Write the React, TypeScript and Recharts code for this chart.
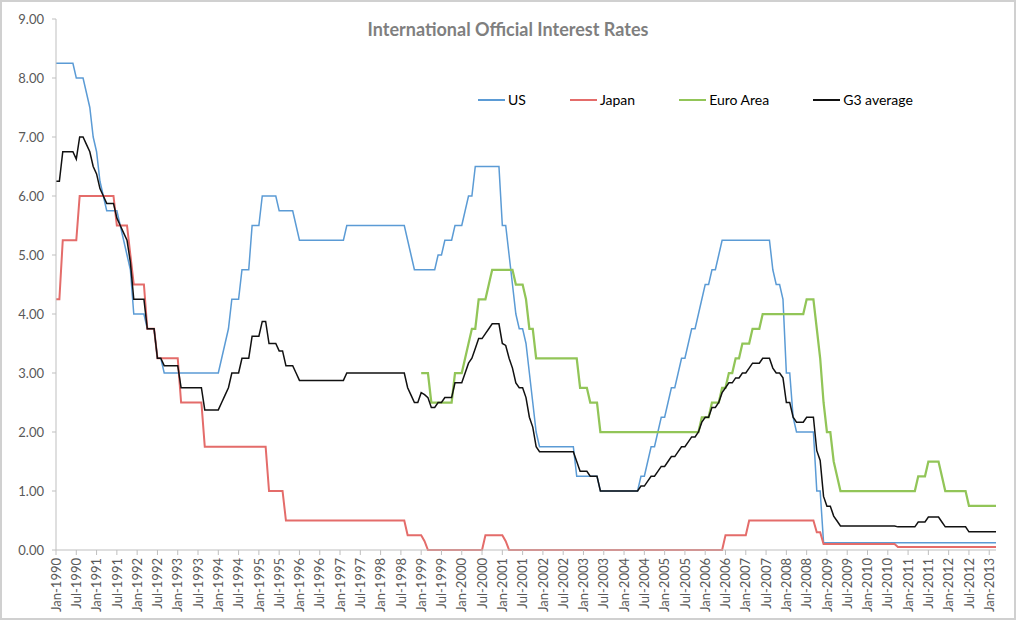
import React from 'react';
import { LineChart, Line, XAxis, YAxis } from 'recharts';

const FONT = 'Lato, "Open Sans", sans-serif';

const monthNames = ['Jan', 'Feb', 'Mar', 'Apr', 'May', 'Jun', 'Jul', 'Aug', 'Sep', 'Oct', 'Nov', 'Dec'];
const firstYear = 1990;
const euroFirstMonth = 108; // Jan-1999

// month-end official rates, Jan-1990 .. Mar-2013
const usRate = [
  8.25, 8.25, 8.25, 8.25, 8.25, 8.25, 8.0, 8.0, 8.0, 7.75, 7.5, 7.0,
  6.75, 6.25, 6.0, 5.75, 5.75, 5.75, 5.75, 5.5, 5.25, 5.0, 4.75, 4.0,
  4.0, 4.0, 4.0, 3.75, 3.75, 3.75, 3.25, 3.25, 3.0, 3.0, 3.0, 3.0,
  3.0, 3.0, 3.0, 3.0, 3.0, 3.0, 3.0, 3.0, 3.0, 3.0, 3.0, 3.0,
  3.0, 3.25, 3.5, 3.75, 4.25, 4.25, 4.25, 4.75, 4.75, 4.75, 5.5, 5.5,
  5.5, 6.0, 6.0, 6.0, 6.0, 6.0, 5.75, 5.75, 5.75, 5.75, 5.75, 5.5,
  5.25, 5.25, 5.25, 5.25, 5.25, 5.25, 5.25, 5.25, 5.25, 5.25, 5.25, 5.25,
  5.25, 5.25, 5.5, 5.5, 5.5, 5.5, 5.5, 5.5, 5.5, 5.5, 5.5, 5.5,
  5.5, 5.5, 5.5, 5.5, 5.5, 5.5, 5.5, 5.5, 5.25, 5.0, 4.75, 4.75,
  4.75, 4.75, 4.75, 4.75, 4.75, 5.0, 5.0, 5.25, 5.25, 5.25, 5.5, 5.5,
  5.5, 5.75, 6.0, 6.0, 6.5, 6.5, 6.5, 6.5, 6.5, 6.5, 6.5, 6.5,
  5.5, 5.5, 5.0, 4.5, 4.0, 3.75, 3.75, 3.5, 3.0, 2.5, 2.0, 1.75,
  1.75, 1.75, 1.75, 1.75, 1.75, 1.75, 1.75, 1.75, 1.75, 1.75, 1.25, 1.25,
  1.25, 1.25, 1.25, 1.25, 1.25, 1.0, 1.0, 1.0, 1.0, 1.0, 1.0, 1.0,
  1.0, 1.0, 1.0, 1.0, 1.0, 1.25, 1.25, 1.5, 1.75, 1.75, 2.0, 2.25,
  2.25, 2.5, 2.75, 2.75, 3.0, 3.25, 3.25, 3.5, 3.75, 3.75, 4.0, 4.25,
  4.5, 4.5, 4.75, 4.75, 5.0, 5.25, 5.25, 5.25, 5.25, 5.25, 5.25, 5.25,
  5.25, 5.25, 5.25, 5.25, 5.25, 5.25, 5.25, 5.25, 4.75, 4.5, 4.5, 4.25,
  3.0, 3.0, 2.25, 2.0, 2.0, 2.0, 2.0, 2.0, 2.0, 1.0, 1.0, 0.125,
  0.125, 0.125, 0.125, 0.125, 0.125, 0.125, 0.125, 0.125, 0.125, 0.125, 0.125, 0.125,
  0.125, 0.125, 0.125, 0.125, 0.125, 0.125, 0.125, 0.125, 0.125, 0.125, 0.125, 0.125,
  0.125, 0.125, 0.125, 0.125, 0.125, 0.125, 0.125, 0.125, 0.125, 0.125, 0.125, 0.125,
  0.125, 0.125, 0.125, 0.125, 0.125, 0.125, 0.125, 0.125, 0.125, 0.125, 0.125, 0.125,
  0.125, 0.125, 0.125,
];

const japanRate = [
  4.25, 4.25, 5.25, 5.25, 5.25, 5.25, 5.25, 6.0, 6.0, 6.0, 6.0, 6.0,
  6.0, 6.0, 6.0, 6.0, 6.0, 6.0, 5.5, 5.5, 5.5, 5.5, 5.0, 4.5,
  4.5, 4.5, 4.5, 3.75, 3.75, 3.75, 3.25, 3.25, 3.25, 3.25, 3.25, 3.25,
  3.25, 2.5, 2.5, 2.5, 2.5, 2.5, 2.5, 2.5, 1.75, 1.75, 1.75, 1.75,
  1.75, 1.75, 1.75, 1.75, 1.75, 1.75, 1.75, 1.75, 1.75, 1.75, 1.75, 1.75,
  1.75, 1.75, 1.75, 1.0, 1.0, 1.0, 1.0, 1.0, 0.5, 0.5, 0.5, 0.5,
  0.5, 0.5, 0.5, 0.5, 0.5, 0.5, 0.5, 0.5, 0.5, 0.5, 0.5, 0.5,
  0.5, 0.5, 0.5, 0.5, 0.5, 0.5, 0.5, 0.5, 0.5, 0.5, 0.5, 0.5,
  0.5, 0.5, 0.5, 0.5, 0.5, 0.5, 0.5, 0.5, 0.25, 0.25, 0.25, 0.25,
  0.25, 0.15, 0, 0, 0, 0, 0, 0, 0, 0, 0, 0,
  0, 0, 0, 0, 0, 0, 0, 0.25, 0.25, 0.25, 0.25, 0.25,
  0.25, 0.15, 0, 0, 0, 0, 0, 0, 0, 0, 0, 0,
  0, 0, 0, 0, 0, 0, 0, 0, 0, 0, 0, 0,
  0, 0, 0, 0, 0, 0, 0, 0, 0, 0, 0, 0,
  0, 0, 0, 0, 0, 0, 0, 0, 0, 0, 0, 0,
  0, 0, 0, 0, 0, 0, 0, 0, 0, 0, 0, 0,
  0, 0, 0, 0, 0, 0, 0.25, 0.25, 0.25, 0.25, 0.25, 0.25,
  0.25, 0.5, 0.5, 0.5, 0.5, 0.5, 0.5, 0.5, 0.5, 0.5, 0.5, 0.5,
  0.5, 0.5, 0.5, 0.5, 0.5, 0.5, 0.5, 0.5, 0.5, 0.3, 0.3, 0.1,
  0.1, 0.1, 0.1, 0.1, 0.1, 0.1, 0.1, 0.1, 0.1, 0.1, 0.1, 0.1,
  0.1, 0.1, 0.1, 0.1, 0.1, 0.1, 0.1, 0.1, 0.1, 0.05, 0.05, 0.05,
  0.05, 0.05, 0.05, 0.05, 0.05, 0.05, 0.05, 0.05, 0.05, 0.05, 0.05, 0.05,
  0.05, 0.05, 0.05, 0.05, 0.05, 0.05, 0.05, 0.05, 0.05, 0.05, 0.05, 0.05,
  0.05, 0.05, 0.05,
];

// from Jan-1999
const euroRate = [
  3.0, 3.0, 3.0, 2.5, 2.5, 2.5, 2.5, 2.5, 2.5, 2.5, 3.0, 3.0,
  3.0, 3.25, 3.5, 3.75, 3.75, 4.25, 4.25, 4.25, 4.5, 4.75, 4.75, 4.75,
  4.75, 4.75, 4.75, 4.75, 4.5, 4.5, 4.5, 4.25, 3.75, 3.75, 3.25, 3.25,
  3.25, 3.25, 3.25, 3.25, 3.25, 3.25, 3.25, 3.25, 3.25, 3.25, 3.25, 2.75,
  2.75, 2.75, 2.5, 2.5, 2.5, 2.0, 2.0, 2.0, 2.0, 2.0, 2.0, 2.0,
  2.0, 2.0, 2.0, 2.0, 2.0, 2.0, 2.0, 2.0, 2.0, 2.0, 2.0, 2.0,
  2.0, 2.0, 2.0, 2.0, 2.0, 2.0, 2.0, 2.0, 2.0, 2.0, 2.0, 2.25,
  2.25, 2.25, 2.5, 2.5, 2.5, 2.75, 2.75, 3.0, 3.0, 3.25, 3.25, 3.5,
  3.5, 3.5, 3.75, 3.75, 3.75, 4.0, 4.0, 4.0, 4.0, 4.0, 4.0, 4.0,
  4.0, 4.0, 4.0, 4.0, 4.0, 4.0, 4.25, 4.25, 4.25, 3.75, 3.25, 2.5,
  2.0, 2.0, 1.5, 1.25, 1.0, 1.0, 1.0, 1.0, 1.0, 1.0, 1.0, 1.0,
  1.0, 1.0, 1.0, 1.0, 1.0, 1.0, 1.0, 1.0, 1.0, 1.0, 1.0, 1.0,
  1.0, 1.0, 1.0, 1.25, 1.25, 1.25, 1.5, 1.5, 1.5, 1.5, 1.25, 1.0,
  1.0, 1.0, 1.0, 1.0, 1.0, 1.0, 0.75, 0.75, 0.75, 0.75, 0.75, 0.75,
  0.75, 0.75, 0.75,
];

const g3Average = [
  6.25, 6.25, 6.75, 6.75, 6.75, 6.75, 6.625, 7.0, 7.0, 6.875, 6.75, 6.5,
  6.375, 6.125, 6.0, 5.875, 5.875, 5.875, 5.625, 5.5, 5.375, 5.25, 4.875, 4.25,
  4.25, 4.25, 4.25, 3.75, 3.75, 3.75, 3.25, 3.25, 3.125, 3.125, 3.125, 3.125,
  3.125, 2.75, 2.75, 2.75, 2.75, 2.75, 2.75, 2.75, 2.375, 2.375, 2.375, 2.375,
  2.375, 2.5, 2.625, 2.75, 3.0, 3.0, 3.0, 3.25, 3.25, 3.25, 3.625, 3.625,
  3.625, 3.875, 3.875, 3.5, 3.5, 3.5, 3.375, 3.375, 3.125, 3.125, 3.125, 3.0,
  2.875, 2.875, 2.875, 2.875, 2.875, 2.875, 2.875, 2.875, 2.875, 2.875, 2.875, 2.875,
  2.875, 2.875, 3.0, 3.0, 3.0, 3.0, 3.0, 3.0, 3.0, 3.0, 3.0, 3.0,
  3.0, 3.0, 3.0, 3.0, 3.0, 3.0, 3.0, 3.0, 2.75, 2.625, 2.5, 2.5,
  2.667, 2.633, 2.583, 2.417, 2.417, 2.5, 2.5, 2.583, 2.583, 2.583, 2.833, 2.833,
  2.833, 3.0, 3.167, 3.25, 3.417, 3.583, 3.583, 3.667, 3.75, 3.833, 3.833, 3.833,
  3.5, 3.467, 3.25, 3.083, 2.833, 2.75, 2.75, 2.583, 2.25, 2.083, 1.75, 1.667,
  1.667, 1.667, 1.667, 1.667, 1.667, 1.667, 1.667, 1.667, 1.667, 1.667, 1.5, 1.333,
  1.333, 1.333, 1.25, 1.25, 1.25, 1.0, 1.0, 1.0, 1.0, 1.0, 1.0, 1.0,
  1.0, 1.0, 1.0, 1.0, 1.0, 1.083, 1.083, 1.167, 1.25, 1.25, 1.333, 1.417,
  1.417, 1.5, 1.583, 1.583, 1.667, 1.75, 1.75, 1.833, 1.917, 1.917, 2.0, 2.167,
  2.25, 2.25, 2.417, 2.417, 2.5, 2.667, 2.75, 2.833, 2.833, 2.917, 2.917, 3.0,
  3.0, 3.083, 3.167, 3.167, 3.167, 3.25, 3.25, 3.25, 3.083, 3.0, 3.0, 2.917,
  2.5, 2.5, 2.25, 2.167, 2.167, 2.167, 2.25, 2.25, 2.25, 1.683, 1.517, 0.908,
  0.742, 0.742, 0.575, 0.492, 0.408, 0.408, 0.408, 0.408, 0.408, 0.408, 0.408, 0.408,
  0.408, 0.408, 0.408, 0.408, 0.408, 0.408, 0.408, 0.408, 0.408, 0.392, 0.392, 0.392,
  0.392, 0.392, 0.392, 0.475, 0.475, 0.475, 0.558, 0.558, 0.558, 0.558, 0.475, 0.392,
  0.392, 0.392, 0.392, 0.392, 0.392, 0.392, 0.308, 0.308, 0.308, 0.308, 0.308, 0.308,
  0.308, 0.308, 0.308,
];

const yTicks = [0, 1, 2, 3, 4, 5, 6, 7, 8, 9];

const series = [
  { key: 'us', name: 'US', color: '#5b9bd5', width: 1.5 },
  { key: 'japan', name: 'Japan', color: '#e46c6a', width: 2 },
  { key: 'euro', name: 'Euro Area', color: '#92c558', width: 2.25 },
  { key: 'g3', name: 'G3 average', color: '#111', width: 1.5 },
];

const data = usRate.map((us, i) => ({
  month: `${monthNames[i % 12]}-${firstYear + Math.floor(i / 12)}`,
  us,
  japan: japanRate[i],
  euro: i >= euroFirstMonth ? euroRate[i - euroFirstMonth] : null,
  g3: g3Average[i],
}));

const MonthTick = ({ x, y, payload }: any) => (
  <g transform={`translate(${x},${y})`}>
    <text
      transform="rotate(-90)"
      textAnchor="end"
      dy="0.36em"
      fill="#595959"
      fontSize={13}
      fontFamily={FONT}
    >
      {payload.value}
    </text>
  </g>
);

const App = () => {
  return (
    <div
      style={{
        position: 'absolute',
        left: 0,
        top: 0,
        width: 1012,
        height: 616,
        border: '2px solid #d0d0d0',
        background: '#fff',
      }}
    >
      <div
        style={{
          position: 'absolute',
          top: 16,
          left: 0,
          width: 1012,
          textAlign: 'center',
          fontFamily: FONT,
          fontWeight: 'bold',
          fontSize: 18,
          lineHeight: '22px',
          color: '#7f7f7f',
        }}
      >
        International Official Interest Rates
      </div>
      {/* legend sits inside the plot area, like the Excel original */}
      <div
        style={{
          position: 'absolute',
          top: 89,
          left: 476,
          display: 'flex',
          gap: 44,
          fontFamily: FONT,
          fontSize: 14,
          lineHeight: '18px',
          color: '#000',
        }}
      >
        {series.map((s) => (
          <div key={s.key} style={{ display: 'flex', alignItems: 'center' }}>
            <span style={{ display: 'inline-block', width: 27, height: 2, background: s.color, marginRight: 3 }} />
            {s.name}
          </div>
        ))}
      </div>
      <LineChart width={1012} height={616} data={data} margin={{ top: 17, right: 18, bottom: 6, left: 0 }}>
        <XAxis
          dataKey="month"
          interval={5}
          tick={<MonthTick />}
          tickSize={5}
          tickMargin={3}
          height={62}
          axisLine={{ stroke: '#bfbfbf' }}
          tickLine={{ stroke: '#bfbfbf' }}
        />
        <YAxis
          domain={[0, 9]}
          ticks={yTicks}
          tickFormatter={(v: number) => v.toFixed(2)}
          width={54}
          tickSize={4}
          tickMargin={8}
          axisLine={{ stroke: '#bfbfbf' }}
          tickLine={{ stroke: '#bfbfbf' }}
          tick={{ fill: '#595959', fontSize: 13, fontFamily: FONT }}
        />
        {series.map((s) => (
          <Line
            key={s.key}
            type="linear"
            dataKey={s.key}
            name={s.name}
            stroke={s.color}
            strokeWidth={s.width}
            dot={false}
            isAnimationActive={false}
          />
        ))}
      </LineChart>
    </div>
  );
};

export default App;
